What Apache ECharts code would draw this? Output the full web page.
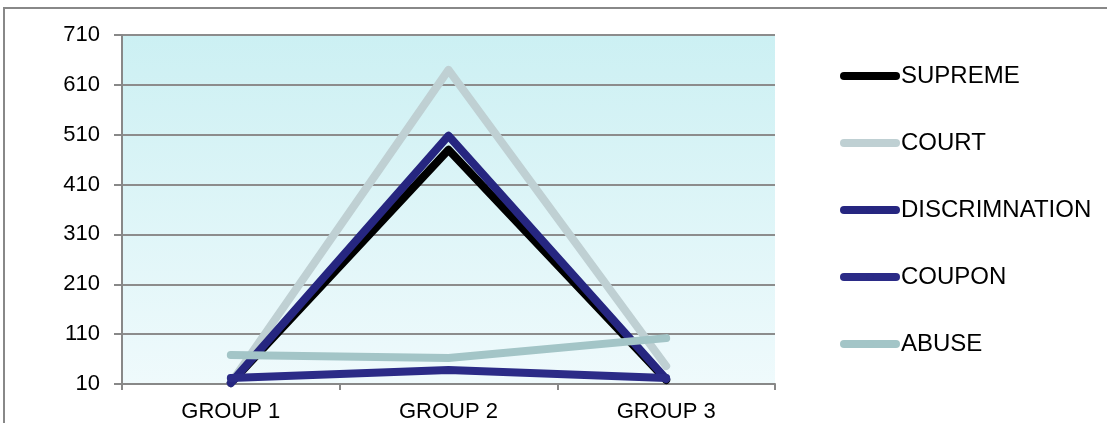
<!DOCTYPE html>
<html>
<head>
<meta charset="utf-8">
<script src="https://cdn.jsdelivr.net/npm/echarts@6/dist/echarts.min.js"></script>
<style>
  body { margin: 0; background: #fff; }
</style>
</head>
<body>
<div id="main" style="width: 1107px;height:423px;"></div>

<script type="text/javascript">

    var groups = ["GROUP 1", "GROUP 2", "GROUP 3"];
    var names = ["SUPREME", "COURT", "DISCRIMNATION", "COUPON", "ABUSE"];

    var supreme = [12, 480, 18];
    var court = [12, 640, 46];
    var discrimnation = [12, 508, 20];
    var coupon = [22, 38, 22];
    var abuse = [68, 62, 102];

    var colors = ['#000000', '#bfd0d3', '#262680', '#2b2b87', '#a3c5c7'];
    var allData = [supreme, court, discrimnation, coupon, abuse];

    var ec = echarts.init(document.getElementById('main'));

    var series = [];
    for (var i = 0; i < names.length; i++) {
        series.push({
            name: names[i],
            type: 'line',
            data: allData[i],
            symbol: 'none',
            lineStyle: { width: 8, color: colors[i], cap: 'round', join: 'round' },
            itemStyle: { color: colors[i] }
        });
    }

    var option = {
        animation: false,
        color: colors,
        textStyle: { fontFamily: 'Liberation Sans, Arial, sans-serif' },
        graphic: [{
            type: 'rect',
            shape: { x: 4, y: 8, width: 1300, height: 600 },
            style: { fill: 'none', stroke: '#888', lineWidth: 2 },
            silent: true
        }],
        grid: {
            left: 122, right: 332, top: 35, bottom: 39,
            show: true,
            borderWidth: 0,
            backgroundColor: new echarts.graphic.LinearGradient(0, 0, 0, 1, [
                { offset: 0, color: '#ccf0f3' },
                { offset: 1, color: '#effafc' }
            ])
        },
        legend: {
            orient: 'vertical',
            left: 835,
            top: 59,
            itemWidth: 52,
            itemHeight: 8,
            itemGap: 43,
            data: names,
            lineStyle: { width: 8, cap: 'round' },
            textStyle: { fontSize: 24, color: '#000' }
        },
        xAxis: {
            type: 'category',
            data: groups,
            boundaryGap: true,
            axisLine: { lineStyle: { color: '#888', width: 2 } },
            axisTick: { show: true, length: 6, lineStyle: { color: '#888', width: 2 } },
            axisLabel: { fontSize: 22, color: '#000', margin: 17 }
        },
        yAxis: {
            type: 'value',
            min: 10,
            max: 710,
            interval: 100,
            axisLine: { show: true, lineStyle: { color: '#888', width: 2 } },
            axisTick: { show: true, length: 8, lineStyle: { color: '#888', width: 2 } },
            axisLabel: { fontSize: 22, color: '#000', margin: 22 },
            splitLine: { lineStyle: { color: '#8c8c8c', width: 2 } }
        },
        series: series
    };

    ec.setOption(option);
</script>
</body>
</html>
